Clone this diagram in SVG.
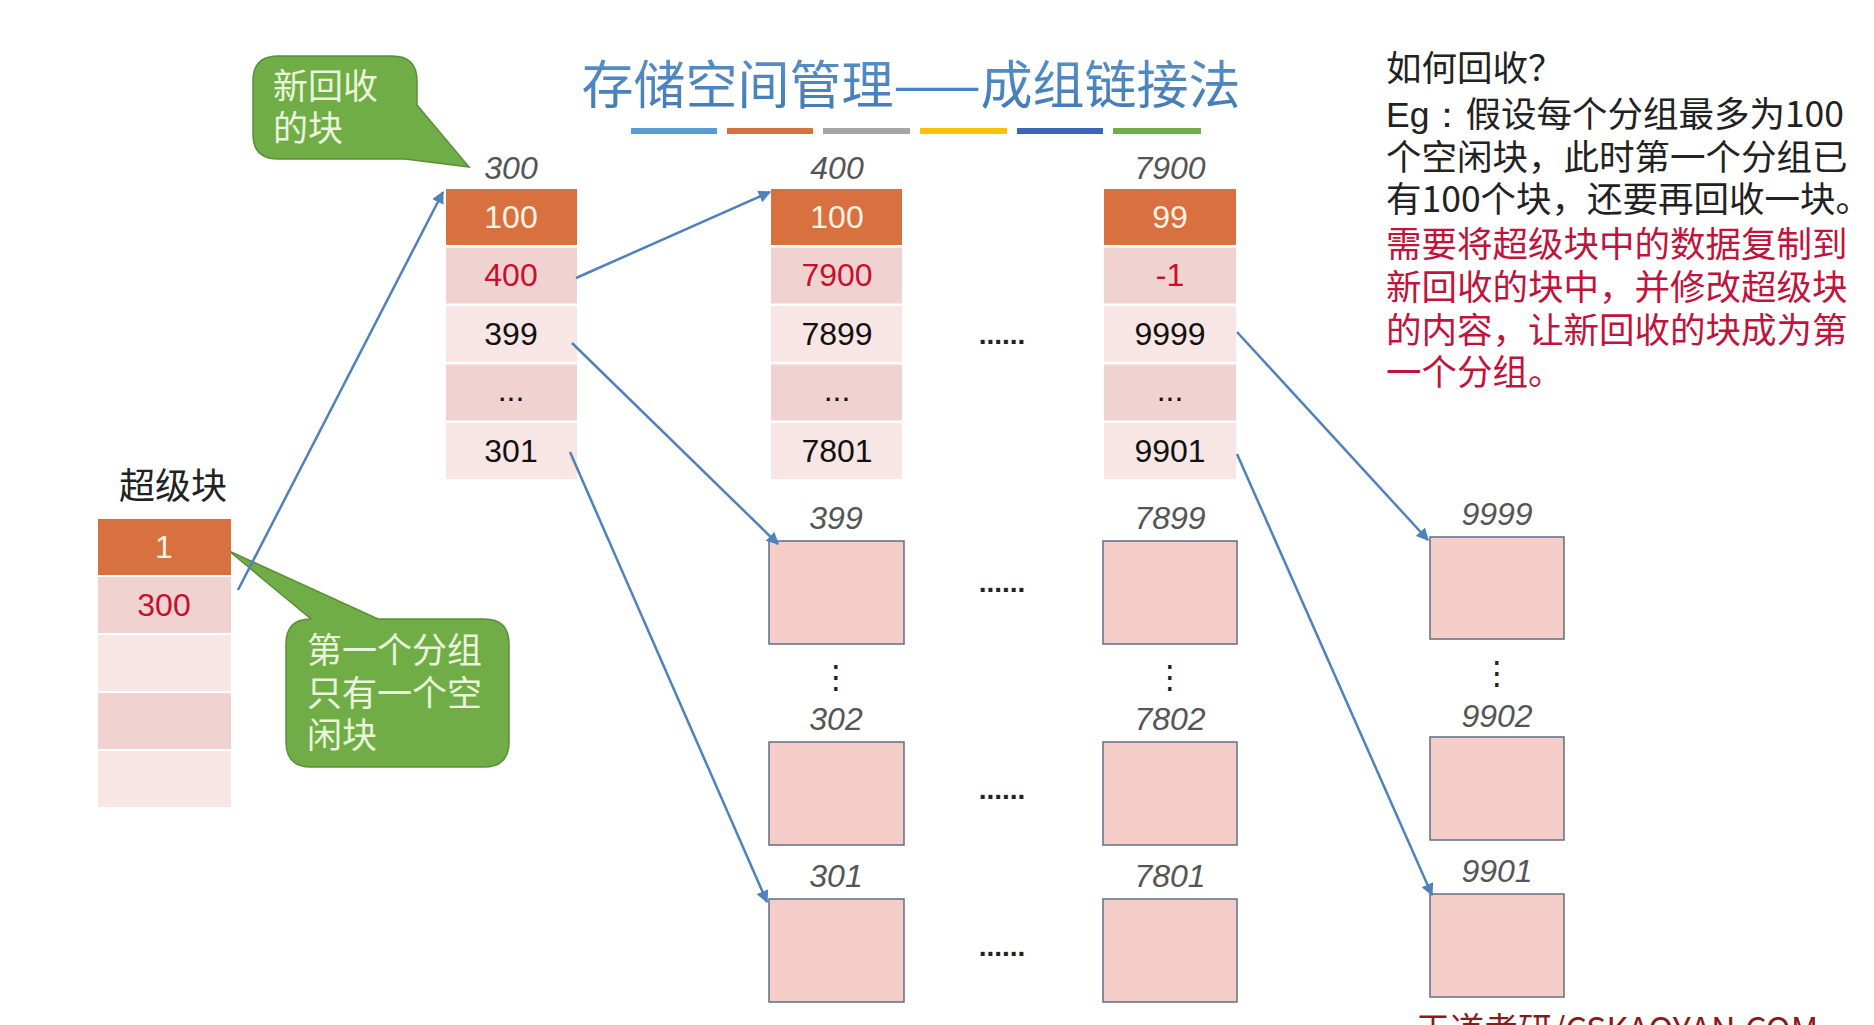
<svg xmlns="http://www.w3.org/2000/svg" width="1874" height="1025" viewBox="0 0 1874 1025">
<defs>
<style>
.hdr{fill:#d9703f}
.dk{fill:#f0d2d0}
.lt{fill:#f8e6e5}
.box{fill:#f4ccc8;stroke:#5f6f86;stroke-width:1.5}
.num{font-family:"Liberation Sans",Arial,sans-serif;font-size:32px;text-anchor:middle;fill:#111}
.wh{fill:#fff4e6}
.red{fill:#c8102e}
.lab{font-family:"Liberation Sans",Arial,sans-serif;font-size:32px;font-style:italic;text-anchor:middle;fill:#555}
.dots{font-family:"Liberation Sans",Arial,sans-serif;font-size:28px;font-weight:bold;text-anchor:middle;fill:#222}
.vd{font-family:"DejaVu Sans",sans-serif;font-size:32px;text-anchor:middle;fill:#222}
.cjk{font-family:"Noto Sans CJK SC","Noto Sans",sans-serif}
.call{fill:#70ad47;stroke:#5a8f38;stroke-width:1.5}
.ctext{font-family:"Noto Sans CJK SC",sans-serif;font-size:35px;fill:#eaf5dc}
.conn{stroke:#4f81bd;stroke-width:2.5;fill:none;marker-end:url(#ah)}
.rt{font-family:"Noto Sans CJK SC","Liberation Sans",sans-serif;font-size:35.5px;fill:#222}
.rr{fill:#c0143c}
</style>
<marker id="ah" viewBox="0 0 10 10" refX="9" refY="5" markerWidth="5" markerHeight="5" orient="auto" markerUnits="strokeWidth">
<path d="M0,0 L10,5 L0,10 z" fill="#4f81bd"/>
</marker>
<linearGradient id="tg" x1="0" y1="0" x2="0" y2="1">
<stop offset="0" stop-color="#5b94cc"/>
<stop offset="1" stop-color="#3f78b3"/>
</linearGradient>
</defs>
<rect width="1874" height="1025" fill="#ffffff"/>

<g id="title">
<text x="911" y="104" class="cjk" font-size="52" text-anchor="middle" fill="url(#tg)">存储空间管理——成组链接法</text>
<rect x="631" y="128" width="86" height="6" fill="#5b9bd5"/>
<rect x="727" y="128" width="86" height="6" fill="#d9703f"/>
<rect x="823" y="128" width="87" height="6" fill="#a5a5a5"/>
<rect x="920" y="128" width="87" height="6" fill="#ffc000"/>
<rect x="1017" y="128" width="86" height="6" fill="#3f63b8"/>
<rect x="1113" y="128" width="88" height="6" fill="#70ad47"/>
</g>

<g id="callout-new">
<path class="call" d="M278,56 H392 Q417,56 417,81 V105 L469,167 L405,159 H278 Q253,159 253,134 V81 Q253,56 278,56 Z"/>
<text class="ctext" x="273" y="99">新回收</text>
<text class="ctext" x="273" y="141">的块</text>
</g>

<g id="callout-first">
<path class="call" d="M311,619 L229,551 L378,619 H484 Q509,619 509,644 V742 Q509,767 484,767 H311 Q286,767 286,742 V644 Q286,619 311,619 Z"/>
<text class="ctext" x="307" y="663">第一个分组</text>
<text class="ctext" x="307" y="706">只有一个空</text>
<text class="ctext" x="307" y="748">闲块</text>
</g>

<g id="superblock">
<text x="173" y="499" class="cjk" font-size="36" text-anchor="middle" fill="#222">超级块</text>
<rect class="hdr" x="98" y="519" width="133" height="56"/>
<rect class="dk" x="98" y="577" width="133" height="56"/>
<rect class="lt" x="98" y="635" width="133" height="56"/>
<rect class="dk" x="98" y="693" width="133" height="56"/>
<rect class="lt" x="98" y="751" width="133" height="56"/>
<text class="num wh" x="164" y="558">1</text>
<text class="num red" x="164" y="616">300</text>
</g>

<g id="group-300">
<text class="lab" x="511" y="179">300</text>
<rect class="hdr" x="446" y="189" width="131" height="56"/>
<rect class="dk" x="446" y="247.5" width="131" height="56"/>
<rect class="lt" x="446" y="306" width="131" height="56"/>
<rect class="dk" x="446" y="364.5" width="131" height="56"/>
<rect class="lt" x="446" y="423" width="131" height="56"/>
<text class="num wh" x="511" y="228">100</text>
<text class="num red" x="511" y="286">400</text>
<text class="num" x="511" y="345">399</text>
<text class="num" x="511" y="401">...</text>
<text class="num" x="511" y="462">301</text>
</g>

<g id="group-400">
<text class="lab" x="837" y="179">400</text>
<rect class="hdr" x="771" y="189" width="131" height="56"/>
<rect class="dk" x="771" y="247.5" width="131" height="56"/>
<rect class="lt" x="771" y="306" width="131" height="56"/>
<rect class="dk" x="771" y="364.5" width="131" height="56"/>
<rect class="lt" x="771" y="423" width="131" height="56"/>
<text class="num wh" x="837" y="228">100</text>
<text class="num red" x="837" y="286">7900</text>
<text class="num" x="837" y="345">7899</text>
<text class="num" x="837" y="401">...</text>
<text class="num" x="837" y="462">7801</text>
</g>

<g id="group-7900">
<text class="lab" x="1170" y="179">7900</text>
<rect class="hdr" x="1104" y="189" width="132" height="56"/>
<rect class="dk" x="1104" y="247.5" width="132" height="56"/>
<rect class="lt" x="1104" y="306" width="132" height="56"/>
<rect class="dk" x="1104" y="364.5" width="132" height="56"/>
<rect class="lt" x="1104" y="423" width="132" height="56"/>
<text class="num wh" x="1170" y="228">99</text>
<text class="num red" x="1170" y="286">-1</text>
<text class="num" x="1170" y="345">9999</text>
<text class="num" x="1170" y="401">...</text>
<text class="num" x="1170" y="462">9901</text>
</g>

<g id="ellipses">
<text class="dots" x="1002" y="344">......</text>
<text class="dots" x="1002" y="592">......</text>
<text class="dots" x="1002" y="799">......</text>
<text class="dots" x="1002" y="956">......</text>
<text class="vd" x="836" y="688">⋮</text>
<text class="vd" x="1170" y="688">⋮</text>
<text class="vd" x="1497" y="684">⋮</text>
</g>

<g id="block-399"><text class="lab" x="836" y="529">399</text><rect class="box" x="769" y="541" width="135" height="103"/></g>
<g id="block-302"><text class="lab" x="836" y="730">302</text><rect class="box" x="769" y="742" width="135" height="103"/></g>
<g id="block-301"><text class="lab" x="836" y="887">301</text><rect class="box" x="769" y="899" width="135" height="103"/></g>

<g id="block-7899"><text class="lab" x="1170" y="529">7899</text><rect class="box" x="1103" y="541" width="134" height="103"/></g>
<g id="block-7802"><text class="lab" x="1170" y="730">7802</text><rect class="box" x="1103" y="742" width="134" height="103"/></g>
<g id="block-7801"><text class="lab" x="1170" y="887">7801</text><rect class="box" x="1103" y="899" width="134" height="103"/></g>

<g id="block-9999"><text class="lab" x="1497" y="525">9999</text><rect class="box" x="1430" y="537" width="134" height="102"/></g>
<g id="block-9902"><text class="lab" x="1497" y="727">9902</text><rect class="box" x="1430" y="737" width="134" height="103"/></g>
<g id="block-9901"><text class="lab" x="1497" y="882">9901</text><rect class="box" x="1430" y="894" width="134" height="103"/></g>

<g id="connectors">
<line class="conn" x1="238" y1="590" x2="443" y2="192"/>
<line class="conn" x1="576" y1="278" x2="770" y2="192"/>
<line class="conn" x1="572" y1="343" x2="778" y2="544"/>
<line class="conn" x1="570" y1="452" x2="767" y2="902"/>
<line class="conn" x1="1237" y1="332" x2="1428" y2="540"/>
<line class="conn" x1="1237" y1="454" x2="1432" y2="895"/>
</g>

<g id="explanation">
<text class="rt" x="1386" y="81">如何回收？</text>
<text class="rt" x="1386" y="127"><tspan font-family="Liberation Sans,sans-serif">Eg：</tspan>假设每个分组最多为100</text>
<text class="rt" x="1386" y="170">个空闲块，此时第一个分组已</text>
<text class="rt" x="1386" y="212">有100个块，还要再回收一块。</text>
<text class="rt rr" x="1386" y="257">需要将超级块中的数据复制到</text>
<text class="rt rr" x="1386" y="300">新回收的块中，并修改超级块</text>
<text class="rt rr" x="1386" y="343">的内容，让新回收的块成为第</text>
<text class="rt rr" x="1386" y="385">一个分组。</text>
</g>

<text x="1416" y="1042" font-family="Noto Sans CJK SC,Liberation Sans,sans-serif" font-size="34" fill="#8b1a1a">王道考研/CSKAOYAN.COM</text>
</svg>
